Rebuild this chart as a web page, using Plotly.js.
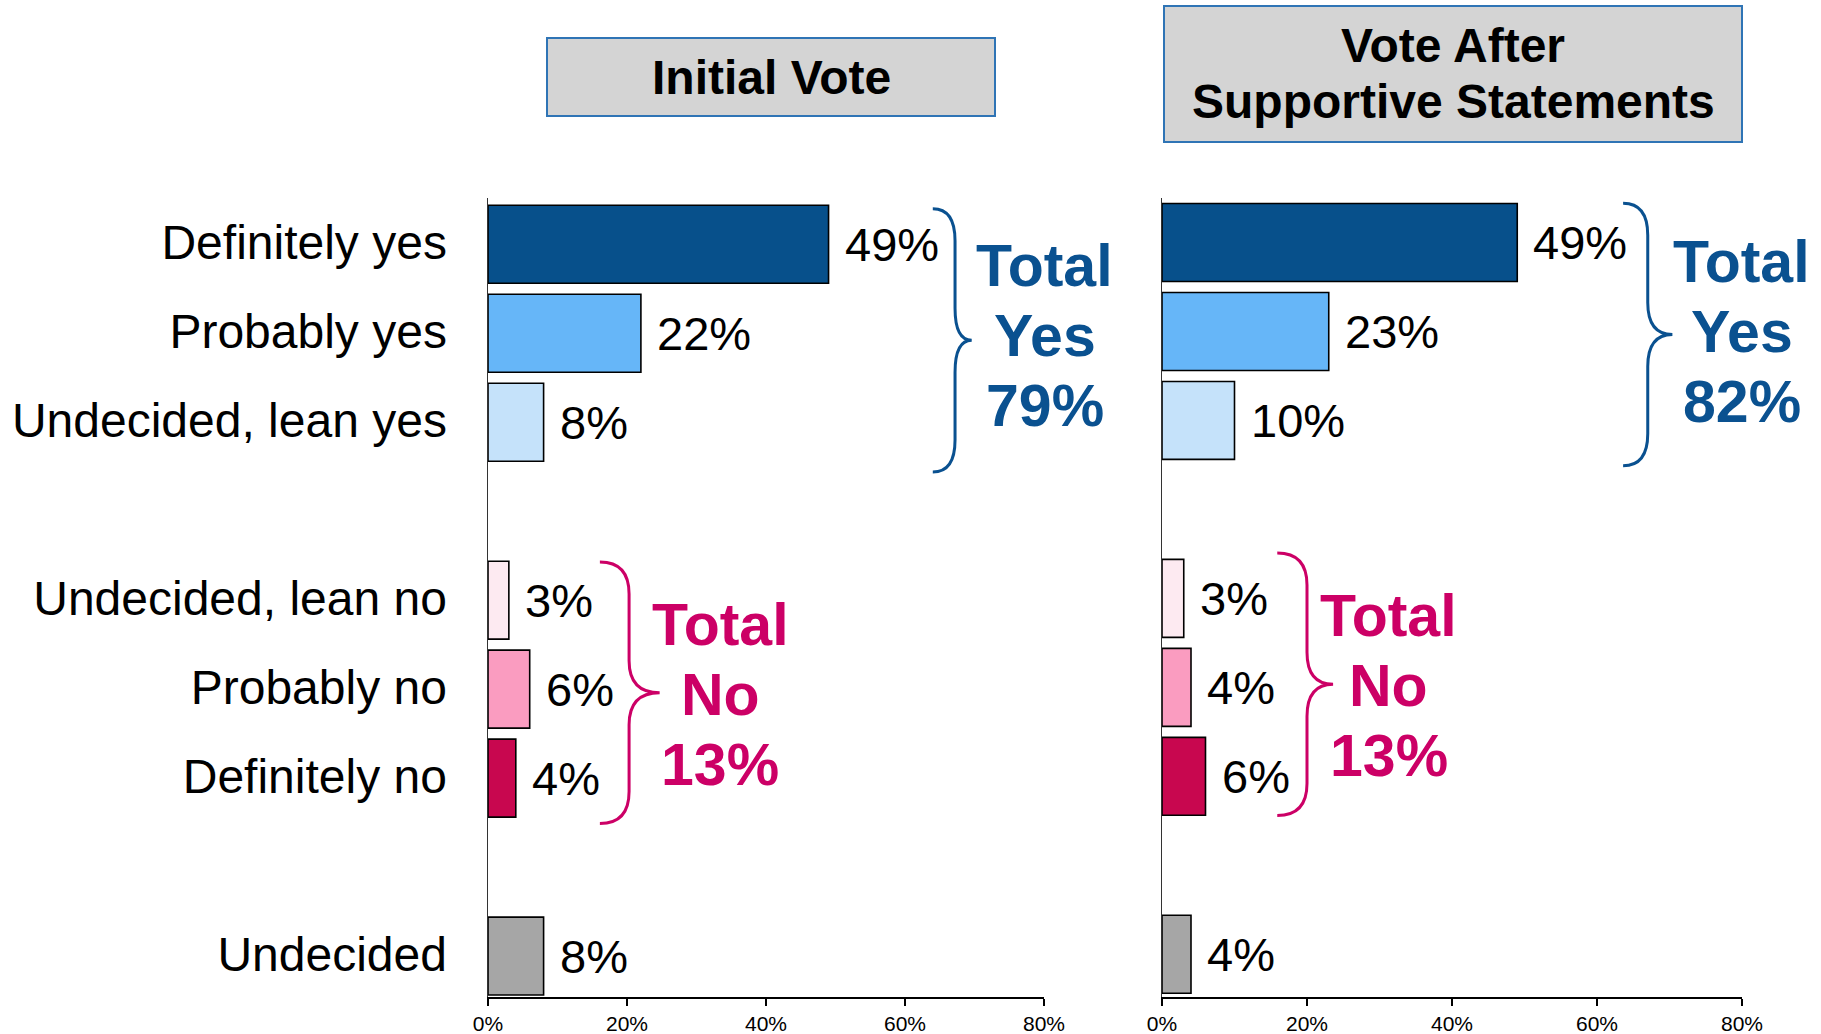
<!DOCTYPE html>
<html>
<head>
<meta charset="utf-8">
<script src="https://cdn.plot.ly/plotly-3.0.1.min.js"></script>
<style>html,body{margin:0;padding:0;background:#fff;}#chart{width:1821px;height:1034px;}</style>
</head>
<body>
<div id="chart"></div>
<script>
// ---- data ----
const categories = ["Definitely yes", "Probably yes", "Undecided, lean yes",
                    "Undecided, lean no", "Probably no", "Definitely no", "Undecided"];
const groups = ["yes", "yes", "yes", "no", "no", "no", "und"];
const initialVote = [49, 22, 8, 3, 6, 4, 8];
const afterStatements = [49, 23, 10, 3, 4, 6, 4];
const panelTitles = [["Initial Vote"], ["Vote After", "Supportive Statements"]];
const xTickValues = [0, 20, 40, 60, 80];

// ---- style ----
const barColors = ["#07508B", "#66B6F8", "#C5E2FA", "#FDEAF1", "#FA9CC0", "#C8074F", "#A6A6A6"];
const BLUE = "#0A5190", MAGENTA = "#CC0066";
const FONT = "Arial, Liberation Sans, sans-serif";
const W = 1821, H = 1034;

// slot positions: index + group offset (blank row between groups)
const groupOrder = [...new Set(groups)];
const slots = categories.map((c, i) => i + groupOrder.indexOf(groups[i]));

function sumGroup(vals, g) { return vals.reduce((s, v, i) => s + (groups[i] === g ? v : 0), 0); }

const px = x => x / W, py = y => 1 - y / H;

const traces = [initialVote, afterStatements].map((vals, k) => ({
  type: "bar", orientation: "h",
  x: vals, y: slots,
  xaxis: k ? "x2" : "x", yaxis: k ? "y2" : "y",
  width: 0.876,
  marker: {color: barColors, line: {color: "#000", width: 1.6}},
  hoverinfo: "skip"
}));

const xaxisBase = {
  range: [0, 80], tickvals: xTickValues, ticktext: xTickValues.map(v => v + "%"),
  showgrid: false, zeroline: false, showline: true, linecolor: "#000", linewidth: 1.5,
  ticks: "outside", ticklen: 7, tickwidth: 1.5, tickcolor: "#000",
  tickfont: {family: FONT, size: 21, color: "#000"}, fixedrange: true
};
const yaxisBase = {
  domain: [py(997), py(198)],
  tickvals: slots, ticktext: categories,
  showgrid: false, zeroline: false, showline: true, linecolor: "#333", linewidth: 1.5,
  ticks: "", fixedrange: true
};

const layout = {
  width: W, height: H, margin: {l: 0, r: 0, t: 0, b: 0},
  paper_bgcolor: "#fff", plot_bgcolor: "rgba(0,0,0,0)", showlegend: false,
  font: {family: FONT, color: "#000"},
  xaxis: Object.assign({}, xaxisBase, {domain: [px(488), px(1044)], anchor: "y"}),
  xaxis2: Object.assign({}, xaxisBase, {domain: [px(1162), px(1742)], anchor: "y2"}),
  yaxis: Object.assign({}, yaxisBase, {range: [8.46, -0.52], anchor: "x",
    showticklabels: true, ticklabelstandoff: 30, ticklabelshift: 2,
    tickfont: {family: FONT, size: 48, color: "#000"}}),
  yaxis2: Object.assign({}, yaxisBase, {range: [8.48, -0.5], anchor: "x2", showticklabels: false}),
  shapes: [], annotations: []
};

// value labels
[initialVote, afterStatements].forEach((vals, k) => {
  vals.forEach((v, i) => {
    layout.annotations.push({
      xref: k ? "x2" : "x", yref: k ? "y2" : "y", x: v, y: slots[i],
      text: v + "%", showarrow: false, xanchor: "left", yanchor: "middle", xshift: 14,
      font: {family: FONT, size: 47, color: "#000"}
    });
  });
});

// braces + totals
function bracePath(x0, x1, x2, yt, yb, r, rm) {
  const ym = (yt + yb) / 2;
  return `M${x0},${yt} Q${x1},${yt} ${x1},${yt + r} L${x1},${ym - rm} Q${x1},${ym} ${x2},${ym} ` +
         `Q${x1},${ym} ${x1},${ym + rm} L${x1},${yb - r} Q${x1},${yb} ${x0},${yb}`;
}
const braces = [
  {k: 0, g: "yes", color: BLUE, vals: initialVote, hx: [64.0, 67.2, 69.6], yr: [-0.40, 2.56], tx: 79.5, sh: 4, dy: 4},
  {k: 0, g: "no", color: MAGENTA, vals: initialVote, hx: [16.1, 20.3, 24.7], yr: [3.57, 6.51], tx: 33.4, sh: 0, dy: -2},
  {k: 1, g: "yes", color: BLUE, vals: afterStatements, hx: [63.6, 67.0, 70.4], yr: [-0.44, 2.51], tx: 79.7, sh: 2, dy: 3},
  {k: 1, g: "no", color: MAGENTA, vals: afterStatements, hx: [15.9, 20.0, 23.6], yr: [3.49, 6.44], tx: 31.3, sh: 0, dy: -2}
];
const LINE_GAP = 70;
braces.forEach(b => {
  const xr = b.k ? "x2" : "x", yr = b.k ? "y2" : "y";
  layout.shapes.push({
    type: "path", xref: xr, yref: yr, layer: "above",
    path: bracePath(b.hx[0], b.hx[1], b.hx[2], b.yr[0], b.yr[1], 0.36, 0.36),
    line: {color: b.color, width: 3}
  });
  const lines = ["Total", b.g === "yes" ? "Yes" : "No", sumGroup(b.vals, b.g) + "%"];
  lines.forEach((t, j) => {
    layout.annotations.push({
      xref: xr, yref: yr, x: b.tx, y: (b.yr[0] + b.yr[1]) / 2,
      xshift: b.sh, yshift: (1 - j) * LINE_GAP + b.dy,
      text: "<b>" + t + "</b>",
      showarrow: false, xanchor: "center", yanchor: "middle", align: "center",
      font: {family: FONT, size: 59, color: b.color}
    });
  });
});

// panel title boxes
const boxes = [{x0: 547, x1: 995, y0: 38, y1: 116, lines: [77]},
               {x0: 1164, x1: 1742, y0: 6, y1: 142, lines: [46, 102]}];
boxes.forEach((bx, k) => {
  layout.shapes.push({
    type: "rect", xref: "paper", yref: "paper",
    x0: px(bx.x0), x1: px(bx.x1), y0: py(bx.y1), y1: py(bx.y0),
    fillcolor: "#D4D4D4", line: {color: "#2F74B5", width: 2}, layer: "below"
  });
  panelTitles[k].forEach((t, j) => {
    layout.annotations.push({
      xref: "paper", yref: "paper", x: px((bx.x0 + bx.x1) / 2), y: py(bx.lines[j]),
      text: "<b>" + t + "</b>", showarrow: false, xanchor: "center", yanchor: "middle",
      font: {family: FONT, size: 48, color: "#000"}
    });
  });
});

Plotly.newPlot("chart", traces, layout, {staticPlot: true, displayModeBar: false});
</script>
</body>
</html>
